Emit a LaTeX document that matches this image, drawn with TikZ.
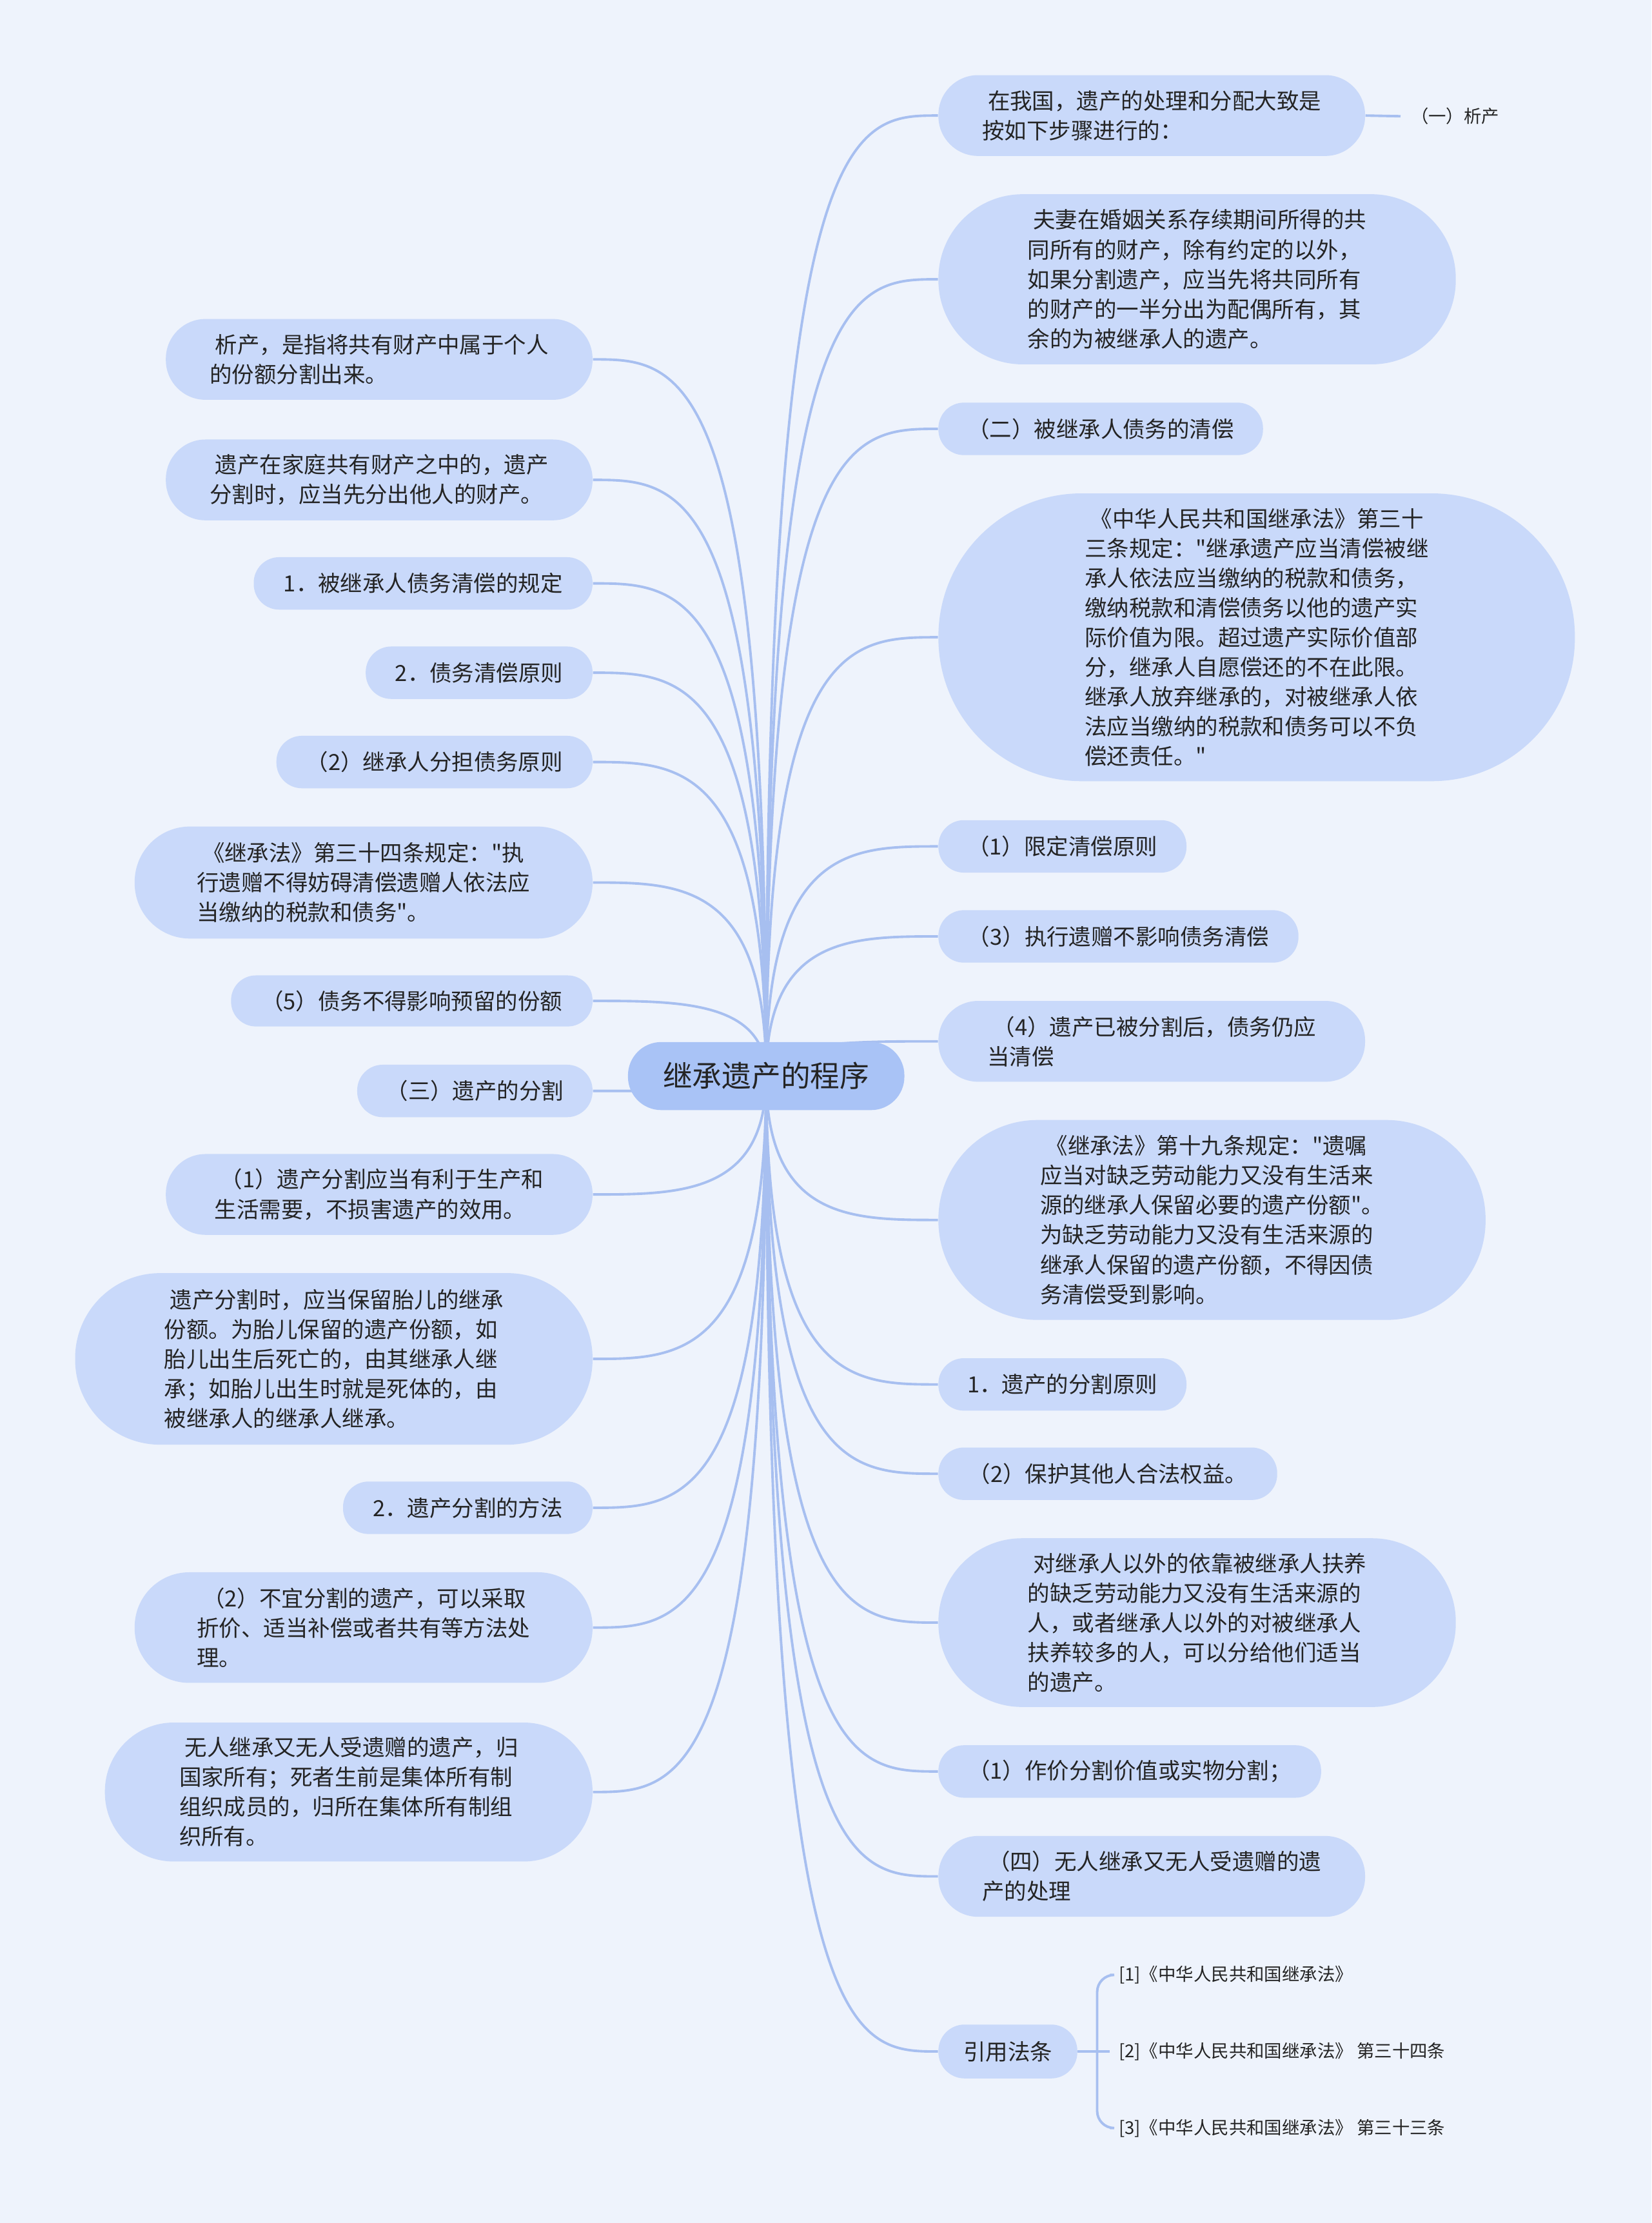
\documentclass[tikz,border=0pt]{standalone}
\usepackage{fontspec}
\newfontfamily\cjk{Noto Sans CJK SC}
\usetikzlibrary{calc}
\newdimen\pxu \pxu=0.21974mm
\definecolor{bgc}{HTML}{EEF3FC}
\definecolor{nodec}{HTML}{C9D9FA}
\definecolor{rootc}{HTML}{A9C3F6}
\definecolor{linec}{HTML}{A7BFF0}
\definecolor{txtc}{HTML}{242424}
\pgfdeclarelayer{bg}
\pgfsetlayers{bg,main}
\tikzset{
  box/.style 2 args={fill=nodec, text=txtc, inner sep=0pt, minimum width=#1\pxu, minimum height=#2\pxu,
    rounded corners={(#2/2-0.5)*\pxu}, align=left, font=\cjk\fontsize{9.8pt}{13.1pt}\selectfont},
  rootbox/.style={fill=rootc, text=txtc, inner sep=0pt, minimum width=195\pxu, minimum height=48\pxu,
    rounded corners=23.5\pxu, font=\cjk\fontsize{13pt}{15pt}\selectfont},
  leaf/.style={text=txtc, inner sep=0pt, anchor=west, font=\cjk\fontsize{7.8pt}{10pt}\selectfont},
  conn/.style={draw=linec, line width=1.1pt},
}
\newcommand\lnkR[1]{\draw[conn] (root.center) .. controls (root.center |- #1.west) and ($(root.center |- #1.west)!0.5!(#1.west)$) .. (#1.west);}
\newcommand\lnkL[1]{\draw[conn] (root.center) .. controls (root.center |- #1.east) and ($(root.center |- #1.east)!0.5!(#1.east)$) .. (#1.east);}
\newcommand\lsp{\hspace*{0.25em}}
\begin{document}
\begin{tikzpicture}[x=\pxu, y=-\pxu]
\useasboundingbox (0,0) rectangle (1165,1568);
\begin{pgfonlayer}{bg}
\fill[bgc] (0,0) rectangle (1165,1568);
\end{pgfonlayer}

% root
\node[rootbox] (root) at (540.5,759) {继承遗产的程序};

% right side
\node[box={301}{57}] (r1) at (812.5,81.5) {\lsp 在我国，遗产的处理和分配大致是\\按如下步骤进行的：};
\node[leaf] (r1a) at (995,82) {（一）析产};
\node[box={365}{120}] (r2) at (844.5,197) {\lsp 夫妻在婚姻关系存续期间所得的共\\同所有的财产，除有约定的以外，\\如果分割遗产，应当先将共同所有\\的财产的一半分出为配偶所有，其\\余的为被继承人的遗产。};
\node[box={229}{37}] (r3) at (776.5,302.5) {（二）被继承人债务的清偿};
\node[box={449}{203}] (r4) at (886.5,449.5) {\lsp《中华人民共和国继承法》第三十\\三条规定："继承遗产应当清偿被继\\承人依法应当缴纳的税款和债务，\\缴纳税款和清偿债务以他的遗产实\\际价值为限。超过遗产实际价值部\\分，继承人自愿偿还的不在此限。\\继承人放弃继承的，对被继承人依\\法应当缴纳的税款和债务可以不负\\偿还责任。"};
\node[box={175}{37}] (r5) at (749.5,597) {（1）限定清偿原则};
\node[box={254}{37}] (r6) at (789,660.5) {（3）执行遗赠不影响债务清偿};
\node[box={301}{57}] (r7) at (812.5,734.5) {\lsp（4）遗产已被分割后，债务仍应\\当清偿};
\node[box={386}{141}] (r8) at (855,860.5) {\lsp《继承法》第十九条规定："遗嘱\\应当对缺乏劳动能力又没有生活来\\源的继承人保留必要的遗产份额"。\\为缺乏劳动能力又没有生活来源的\\继承人保留的遗产份额，不得因债\\务清偿受到影响。};
\node[box={175}{37}] (r9) at (749.5,976.5) {1．遗产的分割原则};
\node[box={239}{37}] (r10) at (781.5,1039.5) {（2）保护其他人合法权益。};
\node[box={365}{119}] (r11) at (844.5,1144.5) {\lsp 对继承人以外的依靠被继承人扶养\\的缺乏劳动能力又没有生活来源的\\人，或者继承人以外的对被继承人\\扶养较多的人，可以分给他们适当\\的遗产。};
\node[box={270}{37}] (r12) at (797,1249.5) {（1）作价分割价值或实物分割；};
\node[box={301}{57}] (r13) at (812.5,1323.5) {\lsp（四）无人继承又无人受遗赠的遗\\产的处理};
\node[box={98}{38}] (r14) at (711,1447) {引用法条};
\node[leaf] (ref1) at (789,1393) {[1]《中华人民共和国继承法》};
\node[leaf] (ref2) at (789,1447) {[2]《中华人民共和国继承法》 第三十四条};
\node[leaf] (ref3) at (789,1501) {[3]《中华人民共和国继承法》 第三十三条};
\coordinate (brk) at (774,1447);

% left side
\node[box={301}{57}] (l1) at (267.5,253.5) {\lsp 析产，是指将共有财产中属于个人\\的份额分割出来。};
\node[box={301}{57}] (l2) at (267.5,338.5) {\lsp 遗产在家庭共有财产之中的，遗产\\分割时，应当先分出他人的财产。};
\node[box={239}{37}] (l3) at (298.5,411.5) {1．被继承人债务清偿的规定};
\node[box={160}{37}] (l4) at (338,474.5) {2．债务清偿原则};
\node[box={223}{37}] (l5) at (306.5,537.5) {（2）继承人分担债务原则};
\node[box={323}{79}] (l6) at (256.5,622.5) {\lsp《继承法》第三十四条规定："执\\行遗赠不得妨碍清偿遗赠人依法应\\当缴纳的税款和债务"。};
\node[box={255}{36}] (l7) at (290.5,706) {（5）债务不得影响预留的份额};
\node[box={166}{37}] (l8) at (335,769.5) {（三）遗产的分割};
\node[box={301}{57}] (l9) at (267.5,842.5) {\lsp（1）遗产分割应当有利于生产和\\生活需要，不损害遗产的效用。};
\node[box={365}{121}] (l10) at (235.5,958.5) {\lsp 遗产分割时，应当保留胎儿的继承\\份额。为胎儿保留的遗产份额，如\\胎儿出生后死亡的，由其继承人继\\承；如胎儿出生时就是死体的，由\\被继承人的继承人继承。};
\node[box={176}{37}] (l11) at (330,1063.5) {2．遗产分割的方法};
\node[box={323}{78}] (l12) at (256.5,1148) {\lsp（2）不宜分割的遗产，可以采取\\折价、适当补偿或者共有等方法处\\理。};
\node[box={344}{98}] (l13) at (246,1264) {\lsp 无人继承又无人受遗赠的遗产，归\\国家所有；死者生前是集体所有制\\组织成员的，归所在集体所有制组\\织所有。};

% connectors
\begin{pgfonlayer}{bg}
\foreach \n in {r1,r2,r3,r4,r5,r6,r7,r8,r9,r10,r11,r12,r13,r14} {\lnkR{\n}}
\foreach \n in {l1,l2,l3,l4,l5,l6,l7,l8,l9,l10,l11,l12,l13} {\lnkL{\n}}
\draw[conn] (r1.east) -- ([xshift=-7\pxu]r1a.west);
\draw[conn] (r14.east) -- ([xshift=-6\pxu]ref2.west);
\draw[conn, rounded corners=12\pxu] (brk) |- ([xshift=-6\pxu]ref1.west);
\draw[conn, rounded corners=12\pxu] (brk) |- ([xshift=-6\pxu]ref3.west);
\end{pgfonlayer}
\end{tikzpicture}
\end{document}
